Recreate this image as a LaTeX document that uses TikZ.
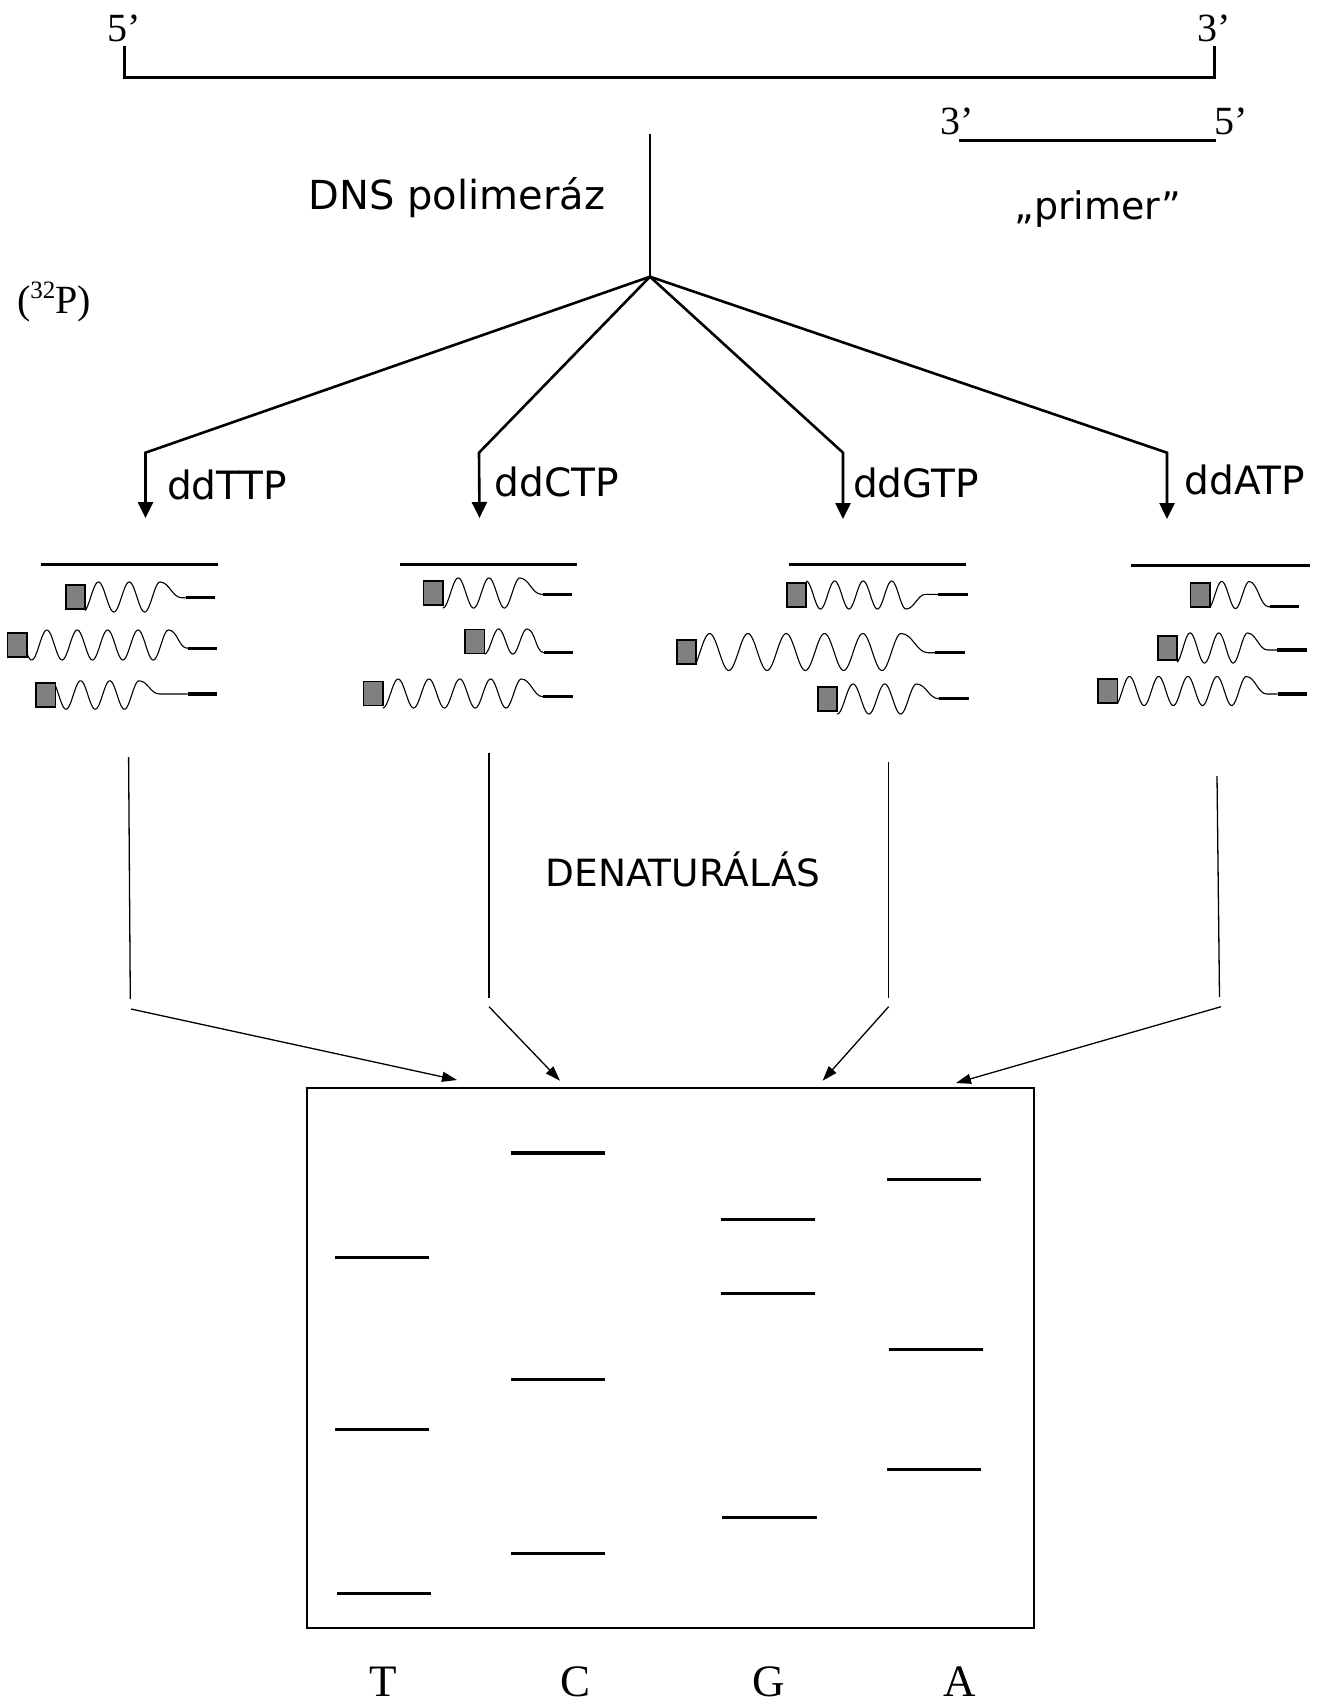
\documentclass[tikz,border=0pt]{standalone}
\usepackage{fontspec}
\setmainfont{Liberation Serif}
\newfontfamily\handfont{DejaVu Sans}
\usetikzlibrary{arrows.meta}
\definecolor{tagfill}{RGB}{128,128,128}

% one labelled fragment: #1 tag left x, #2 centre y, #3 start phase, #4 end phase,
% #5 period, #6 amplitude, #7 bar start x, #8 bar end x, #9 bar y
\newcommand\dnafrag[9]{%
  \pgfmathsetmacro\frStart{#1+19.5}%
  \pgfmathsetmacro\frLastX{\frStart+(#4-(#3))*#5}%
  \pgfmathsetmacro\frLastY{#2+#6*cos(360*#4)}%
  \pgfmathsetmacro\frEnd{min(\frLastX+0.7*#5,#7)}%
  \draw[wave] plot[domain=#3:#4,samples=160] ({\frStart+#5*(\x-(#3))},{#2+#6*cos(360*\x)})
    .. controls (\frLastX+0.3*#5,\frLastY) and (\frEnd-0.3*#5,#9) .. (\frEnd,#9) -- (#7,#9);
  \draw[tag] (#1,#2-12) rectangle ++(19.5,24);
  \draw[band] (#7,#9) -- (#8,#9);
}

\begin{document}
\begin{tikzpicture}[x=1pt,y=-1pt,
  serif/.style={font=\fontsize{40}{48}\selectfont, inner sep=0pt, anchor=base},
  lanelabel/.style={font=\fontsize{45}{54}\selectfont, inner sep=0pt, anchor=base},
  hand/.style={font=\handfont\fontsize{39}{46}\selectfont, inner sep=0pt, anchor=base},
  strand/.style={line width=3pt},
  stem/.style={line width=2pt},
  branch/.style={line width=2.6pt, -{Triangle[length=16pt,width=15pt]}},
  lane/.style={line width=1.3pt},
  lanearrow/.style={line width=1.3pt, -{Triangle[length=15pt,width=10pt]}},
  band/.style={line width=3.3pt},
  wave/.style={line width=1.1pt},
  tag/.style={fill=tagfill, draw=black, line width=1.6pt},
]
\useasboundingbox (0,0) rectangle (1327,1704);

% template strand
\coordinate (t5) at (124,46);
\coordinate (t5b) at (124,77.7);
\coordinate (t3b) at (1214.5,77.7);
\coordinate (t3) at (1214.5,46);
\draw[strand] (t5) -- (t5b) -- (t3b) -- (t3);
\node[serif] (end5) at (124,42) {5’};
\node[serif] (end3) at (1214,42) {3’};

% primer
\coordinate (pa) at (959,140.7);
\coordinate (pb) at (1216,140.7);
\draw[strand] (pa) -- (pb);
\node[serif] (prim3) at (957,135) {3’};
\node[serif] (prim5) at (1231,135) {5’};
\node[hand, font=\handfont\fontsize{38}{46}\selectfont] (primer) at (1098,220) {„primer”};

% polymerase stem and the four reactions
\coordinate (stemtop) at (650,134);
\coordinate (apex) at (650,276.7);
\draw[stem] (stemtop) -- (apex);
\node[hand, font=\handfont\fontsize{40}{48}\selectfont] (pol) at (457,210) {DNS polimeráz};
\node[serif] (label32) at (54,313) {(\raisebox{15pt}{\fontsize{25}{25}\selectfont 32}P)};

\coordinate (cT) at (145.5,452.7);
\coordinate (cC) at (479,452.7);
\coordinate (cG) at (843,452.7);
\coordinate (cA) at (1167,452.7);
\coordinate (aT) at (145.5,518);
\coordinate (aC) at (479.5,518);
\coordinate (aG) at (843,519);
\coordinate (aA) at (1167,519);
\draw[branch] (apex) -- (cT) -- (aT);
\draw[branch] (apex) -- (cC) -- (aC);
\draw[branch] (apex) -- (cG) -- (aG);
\draw[branch] (apex) -- (cA) -- (aA);

\node[hand] (ddT) at (227,499) {ddTTP};
\node[hand] (ddC) at (557,496) {ddCTP};
\node[hand] (ddG) at (916,497.3) {ddGTP};
\node[hand] (ddA) at (1245,494) {ddATP};

% template copies
\draw[strand] (41,564) -- (218,564);
\draw[strand] (400,564) -- (577,564);
\draw[strand] (789,564) -- (966,564);
\draw[strand] (1131,565) -- (1309.5,565);

% terminated fragments, T reaction
\dnafrag{65.7}{597}{0.07}{2.5}{30.8}{15}{185.7}{215}{597.7}
\dnafrag{7.3}{645}{-0.16}{4.5}{30.4}{15}{187.7}{217.3}{648.3}
\dnafrag{36}{695}{-0.36}{2.5}{29.2}{14.2}{187.7}{217.3}{694}
% C reaction
\dnafrag{423.3}{593}{0}{2.5}{30.8}{15}{543.3}{572.3}{594.3}
\dnafrag{465}{641.5}{0}{1.5}{28.3}{12.5}{544}{573.3}{652.7}
\dnafrag{363.3}{693.5}{0}{4.5}{30.8}{14.5}{543.3}{573.3}{696.7}
% G reaction
\dnafrag{786.7}{595}{-0.5}{3}{28.5}{14}{938.3}{967.7}{594.3}
\dnafrag{676.7}{652}{0.15}{5.5}{38.3}{18.5}{935}{965}{652.7}
\dnafrag{817.7}{699}{0}{2.5}{31.7}{15}{939.3}{969}{698.7}
% A reaction
\dnafrag{1190.4}{595}{0.07}{1.5}{27.5}{13.5}{1270}{1299}{606.7}
\dnafrag{1157.7}{648}{0.05}{2.5}{28.7}{15}{1276.8}{1306.5}{650}
\dnafrag{1098}{691}{0.09}{4.5}{29.2}{14.5}{1277.6}{1307.4}{694}

% denaturation
\node[hand, font=\handfont\fontsize{37.5}{45}\selectfont] (denat) at (683,886.7) {DENATURÁLÁS};
\coordinate (dT1) at (128.6,757);
\coordinate (dT2) at (130.3,999);
\coordinate (dC1) at (489,752.7);
\coordinate (dC2) at (489,997.7);
\coordinate (dG1) at (888.6,762);
\coordinate (dG2) at (888.6,998);
\coordinate (dA1) at (1217,776);
\coordinate (dA2) at (1219.5,997);
\draw[lane] (dT1) -- (dT2);
\draw[lane] (dC1) -- (dC2);
\draw[lane] (dG1) -- (dG2);
\draw[lane] (dA1) -- (dA2);

% gel
\node[draw, line width=1.8pt, inner sep=0pt, minimum width=726.8pt, minimum height=539.4pt] (gel) at (670.4,1358) {};
\coordinate (sT) at (131,1009);
\coordinate (sC) at (489,1006.7);
\coordinate (sG) at (888.6,1006.7);
\coordinate (sA) at (1221,1006.7);
\coordinate (eT) at (457,1080);
\coordinate (eC) at (560,1080.7);
\coordinate (eG) at (822.6,1080.7);
\coordinate (eA) at (956,1083);
\draw[lanearrow] (sT) -- (eT);
\draw[lanearrow] (sC) -- (eC);
\draw[lanearrow] (sG) -- (eG);
\draw[lanearrow] (sA) -- (eA);

% bands
\draw[band] (335,1257.3) -- (428.8,1257.3);
\draw[band] (335,1429.3) -- (428.8,1429.3);
\draw[band] (336.8,1593.3) -- (431.2,1593.3);
\draw[band] (511.4,1153) -- (605.3,1153);
\draw[band] (511.4,1379.3) -- (605.3,1379.3);
\draw[band] (511.4,1553.3) -- (605.3,1553.3);
\draw[band] (720.5,1219.3) -- (814.9,1219.3);
\draw[band] (720.5,1293.3) -- (814.9,1293.3);
\draw[band] (722.4,1517.3) -- (816.8,1517.3);
\draw[band] (886.6,1179.3) -- (981,1179.3);
\draw[band] (888.5,1349.3) -- (983,1349.3);
\draw[band] (886.6,1469.3) -- (981,1469.3);

% lane letters
\node[lanelabel] (laneT) at (383,1696) {T};
\node[lanelabel] (laneC) at (575,1696) {C};
\node[lanelabel] (laneG) at (769,1696) {G};
\node[lanelabel] (laneA) at (960,1696) {A};
\end{tikzpicture}
\end{document}
